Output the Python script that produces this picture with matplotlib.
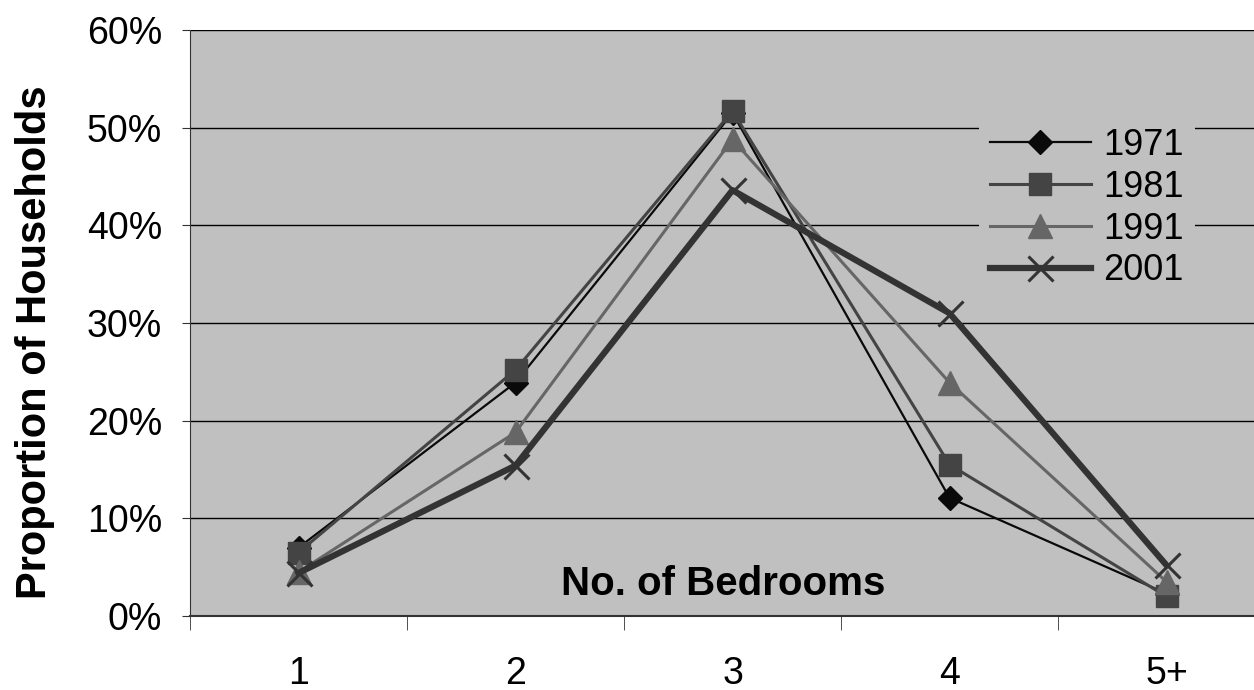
import matplotlib
matplotlib.use('Agg')
from matplotlib import pyplot as plt
from matplotlib.ticker import FixedLocator, PercentFormatter

# Anteil der Haushalte nach Anzahl Schlafzimmer
bedrooms = ['1', '2', '3', '4', '5+']
share_1971 = [7.0, 23.9, 51.5, 12.1, 2.3]
share_1981 = [6.5, 25.2, 51.7, 15.5, 2.0]
share_1991 = [4.5, 18.8, 48.8, 23.9, 3.5]
share_2001 = [4.4, 15.4, 43.6, 31.0, 5.2]
years = ['1971', '1981', '1991', '2001']

plt.rcParams['font.family'] = ['Liberation Sans', 'DejaVu Sans']

fig = plt.figure(figsize=(12.54, 6.9), dpi=100)
ax = fig.add_axes([190 / 1254, 1 - 616 / 690, 1085 / 1254, 586 / 690])
ax.set_facecolor('#c0c0c0')

x = range(len(bedrooms))
ax.plot(x, share_1971, color='#0a0a0a', lw=1.6, marker='D', ms=12.5,
        mec='#0a0a0a', label=years[0])
ax.plot(x, share_1981, color='#444444', lw=2.2, marker='s', ms=15.5,
        mec='#444444', label=years[1])
ax.plot(x, share_1991, color='#666666', lw=2.2, marker='^', ms=17,
        mec='#666666', label=years[2])
ax.plot(x, share_2001, color='#333333', lw=4.5, marker='x', ms=18,
        mew=2.2, mec='#333333', label=years[3])

ax.set_xlim(-0.5, 4.5)
ax.set_ylim(0, 60)
ax.set_yticks(range(0, 61, 10))
ax.yaxis.set_major_formatter(PercentFormatter(decimals=0))
ax.grid(True, axis='y', color='black', lw=1)
ax.set_axisbelow(True)

# Kategorien in der Mitte, Striche an den Grenzen
ax.set_xticks(list(x))
ax.set_xticklabels(bedrooms)
ax.xaxis.set_minor_locator(FixedLocator([-0.5, 0.5, 1.5, 2.5, 3.5, 4.5]))
ax.tick_params(axis='x', which='major', length=0, pad=29, labelsize=27)
ax.tick_params(axis='x', which='minor', length=10, direction='out', color='#333333')
ax.tick_params(axis='y', length=6, direction='out', labelsize=27, pad=14, color='#333333')

for side in ['top', 'right']:
    ax.spines[side].set_visible(False)
ax.spines['left'].set_color('#333333')
ax.spines['bottom'].set_color('#333333')
ax.spines['bottom'].set_linewidth(1.5)

fig.text(35 / 1254, 1 - 342 / 690, 'Proportion of Households', rotation=90,
         ha='center', va='center', fontsize=30, fontweight='bold')
ax.text(1.955, 2.15, 'No. of Bedrooms', ha='center', va='baseline', fontsize=29, fontweight='bold')

leg = ax.legend(loc='upper left', bbox_to_anchor=(0.727, 0.8515), fontsize=26,
                frameon=True, facecolor='#c0c0c0', edgecolor='none', framealpha=1,
                handlelength=2.8, labelspacing=0.19, handletextpad=0.35,
                borderpad=0.3, borderaxespad=0, fancybox=False)

plt.savefig('out.png')
